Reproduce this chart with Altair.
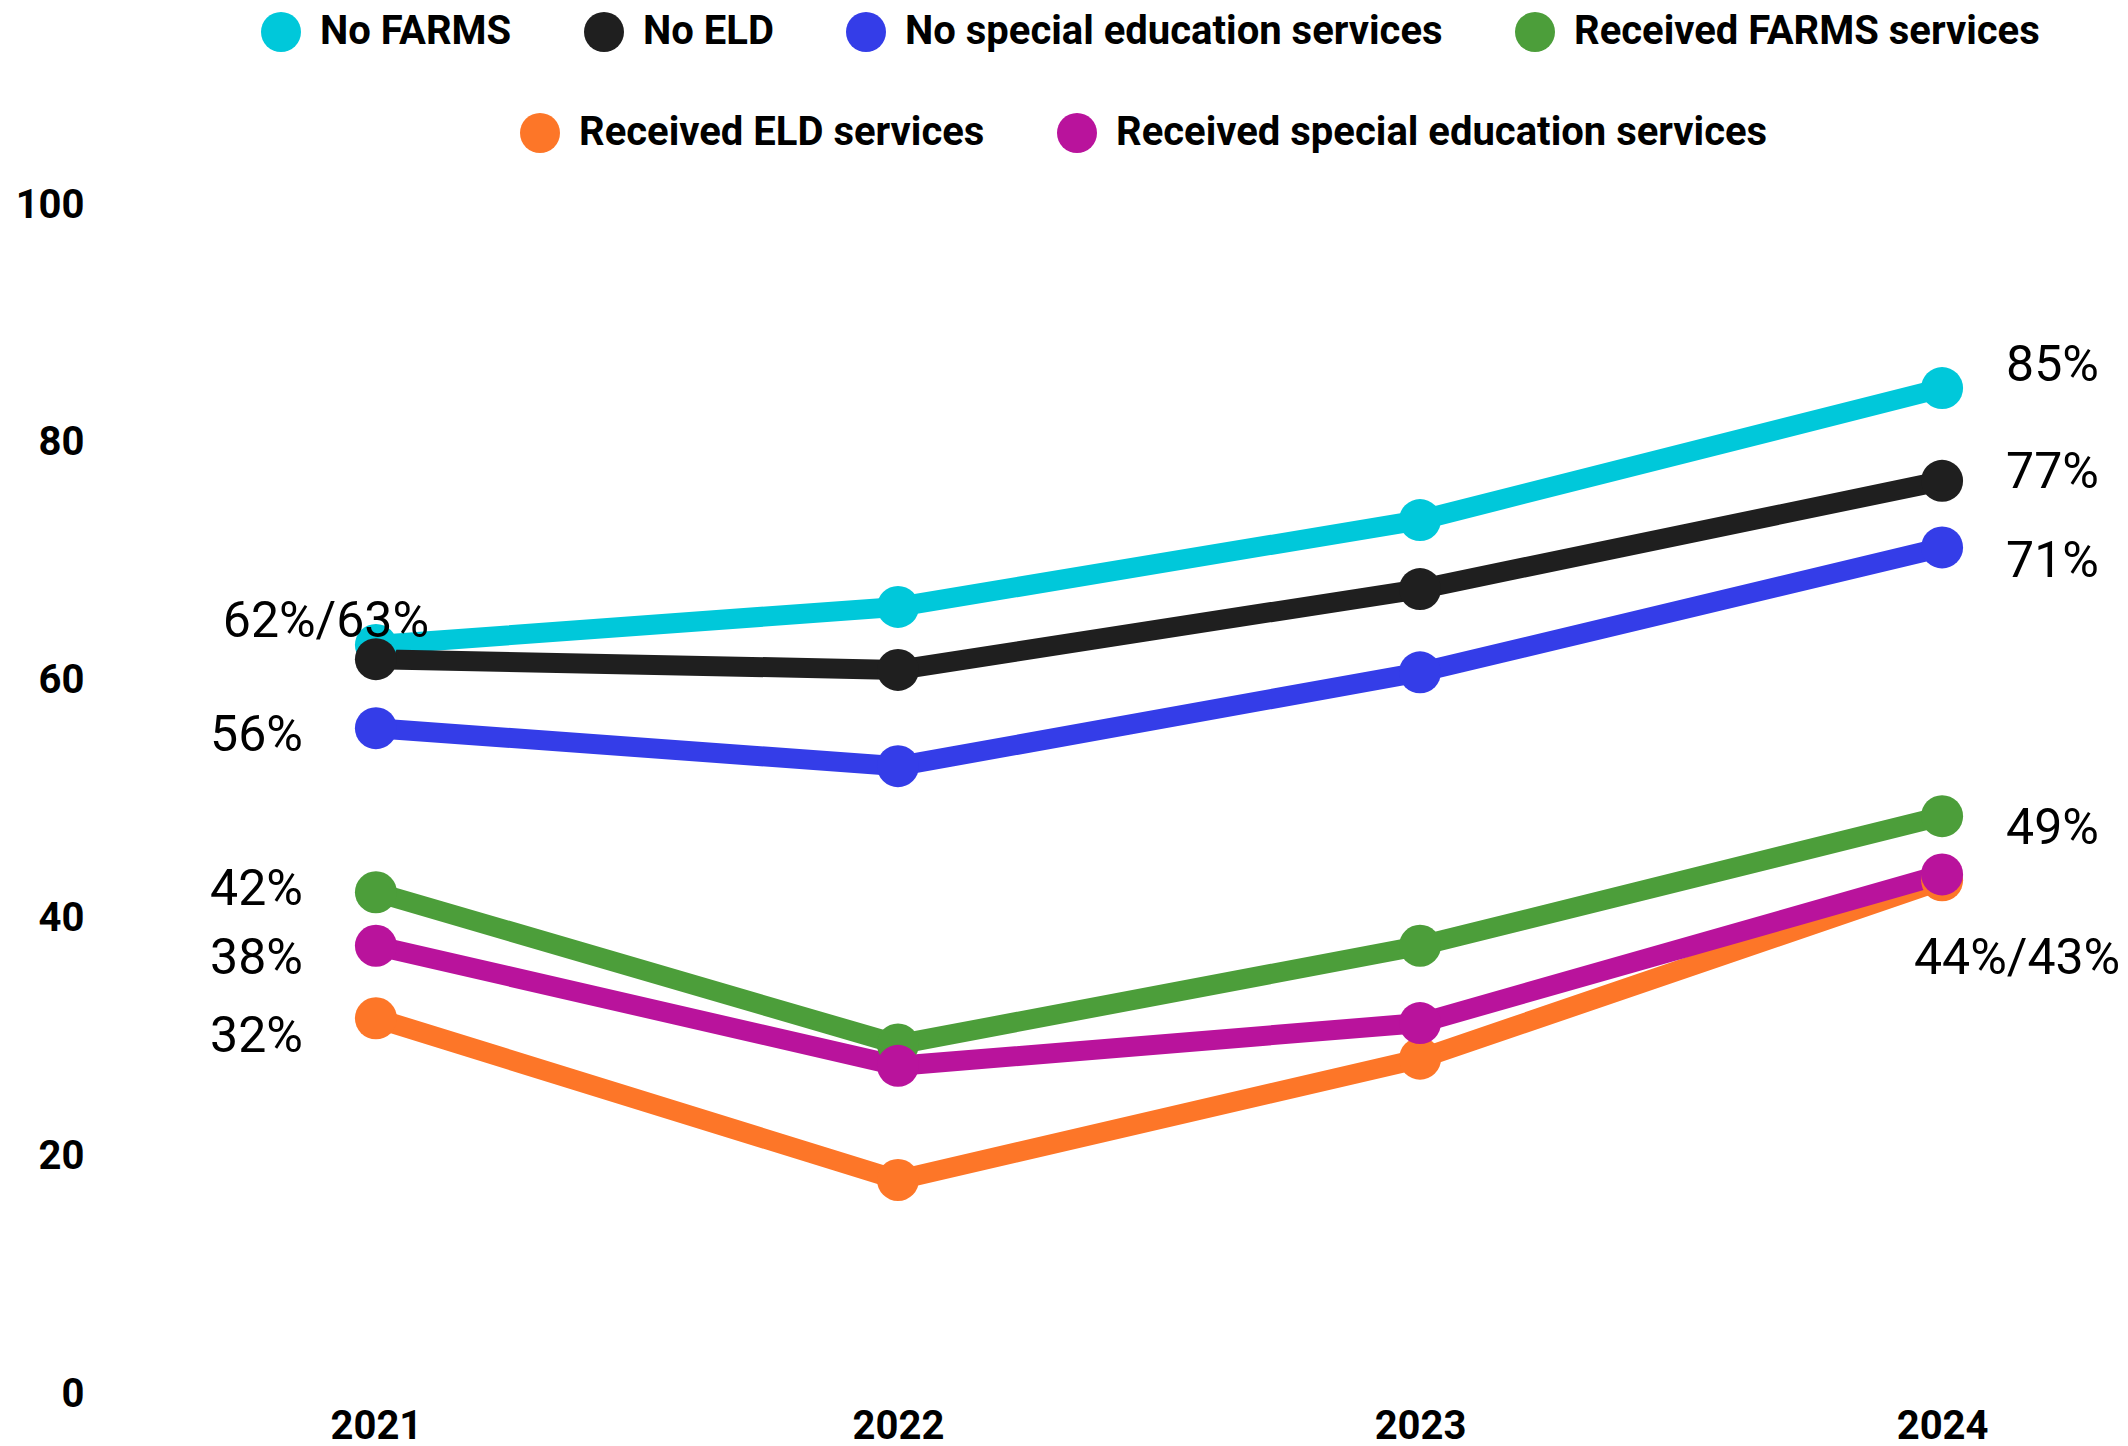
import altair as alt
import pandas as pd

years = ["2021", "2022", "2023", "2024"]
series = [
    "No FARMS",
    "No ELD",
    "No special education services",
    "Received FARMS services",
    "Received ELD services",
    "Received special education services",
]
colors = ["#00c8da", "#1f1f1f", "#343de8", "#4c9e3a", "#fd7628", "#b9139c"]

no_farms = [63.0, 66.2, 73.5, 84.6]
no_eld = [61.8, 60.9, 67.7, 76.8]
no_sped = [56.0, 52.8, 60.7, 71.2]
farms = [42.2, 29.4, 37.7, 48.6]
eld = [31.6, 18.0, 28.2, 43.2]
sped = [37.7, 27.6, 31.2, 43.7]
values = [no_farms, no_eld, no_sped, farms, eld, sped]

# annotation labels
label_text = ["62%/63%", "56%", "42%", "38%", "32%", "85%", "77%", "71%", "49%", "44%/43%"]
label_year = ["2021", "2021", "2021", "2021", "2021", "2024", "2024", "2024", "2024", "2024"]
label_y = [64.9, 55.3, 42.4, 36.6, 30.0, 86.5, 77.5, 70.0, 47.5, 36.6]
label_group = ["lc", "l", "l", "l", "l", "r", "r", "r", "r", "rc"]

rows = []
for s, vals in zip(series, values):
    for y, v in zip(years, vals):
        rows.append({"series": s, "year": y, "value": v})
df = pd.DataFrame(rows)

lab = pd.DataFrame({"text": label_text, "year": label_year, "value": label_y, "group": label_group})

row1 = series[:4]
row2 = series[4:]

FONT = "Roboto"

x_enc = alt.X(
    "year:O",
    scale=alt.Scale(type="point", padding=0.3408),
    axis=alt.Axis(
        title=None, labelAngle=0, ticks=False, tickSize=0, domain=False, grid=False,
        labelFont=FONT, labelFontSize=40, labelFontWeight="bold", labelColor="#000000",
        labelPadding=32, labelBaseline="middle",
    ),
)
y_enc = alt.Y(
    "value:Q",
    scale=alt.Scale(domain=[0, 100], nice=False),
    axis=alt.Axis(
        title=None, values=[0, 20, 40, 60, 80, 100], ticks=False, tickSize=0, domain=False,
        grid=False, labelFont=FONT, labelFontSize=40, labelFontWeight="bold",
        labelColor="#000000", labelPadding=114,
    ),
)

base = alt.Chart(df)

lines = base.mark_line(strokeWidth=20).encode(
    x=x_enc,
    y=y_enc,
    stroke=alt.Stroke("series:N", scale=alt.Scale(domain=series, range=colors), legend=None),
    detail="series:N",
)

def legend(lx, ly):
    return alt.Legend(
        orient="none", legendX=lx, legendY=ly, direction="horizontal", title=None,
        labelFont=FONT, labelFontSize=40, labelFontWeight="bold", labelColor="#000000",
        labelLimit=2000, symbolType="circle", symbolSize=1600, symbolStrokeWidth=0,
        symbolOpacity=1, columnPadding=72, labelOffset=19,
    )

pts1 = alt.Chart(df[df["series"].isin(row1)]).mark_circle(size=1764, opacity=1).encode(
    x=alt.X("year:O"),
    y=alt.Y("value:Q"),
    color=alt.Color("series:N", scale=alt.Scale(domain=row1, range=colors[:4]), legend=legend(63, -193)),
)
pts2 = alt.Chart(df[df["series"].isin(row2)]).mark_circle(size=1764, opacity=1).encode(
    x=alt.X("year:O"),
    y=alt.Y("value:Q"),
    fill=alt.Fill("series:N", scale=alt.Scale(domain=row2, range=colors[4:]), legend=legend(322, -92)),
)

def text_layer(group, align, dx):
    return alt.Chart(lab[lab["group"] == group]).mark_text(
        align=align, baseline="middle", dx=dx, font=FONT, fontSize=50, color="#000000"
    ).encode(x=alt.X("year:O"), y=alt.Y("value:Q"), text="text:N")

texts = [
    text_layer("l", "right", -73),
    text_layer("lc", "center", -50),
    text_layer("r", "left", 64),
    text_layer("rc", "center", 75),
]

chart = alt.layer(lines, pts1, pts2, *texts).properties(
    width=1922,
    height=1189,
    padding={"left": 198, "top": 205, "right": 4, "bottom": 52},
    autosize=alt.AutoSizeParams(type="none"),
    background="white",
).configure_view(stroke=None)

chart.save("out.html", embed_options={"renderer": "svg", "actions": False})
